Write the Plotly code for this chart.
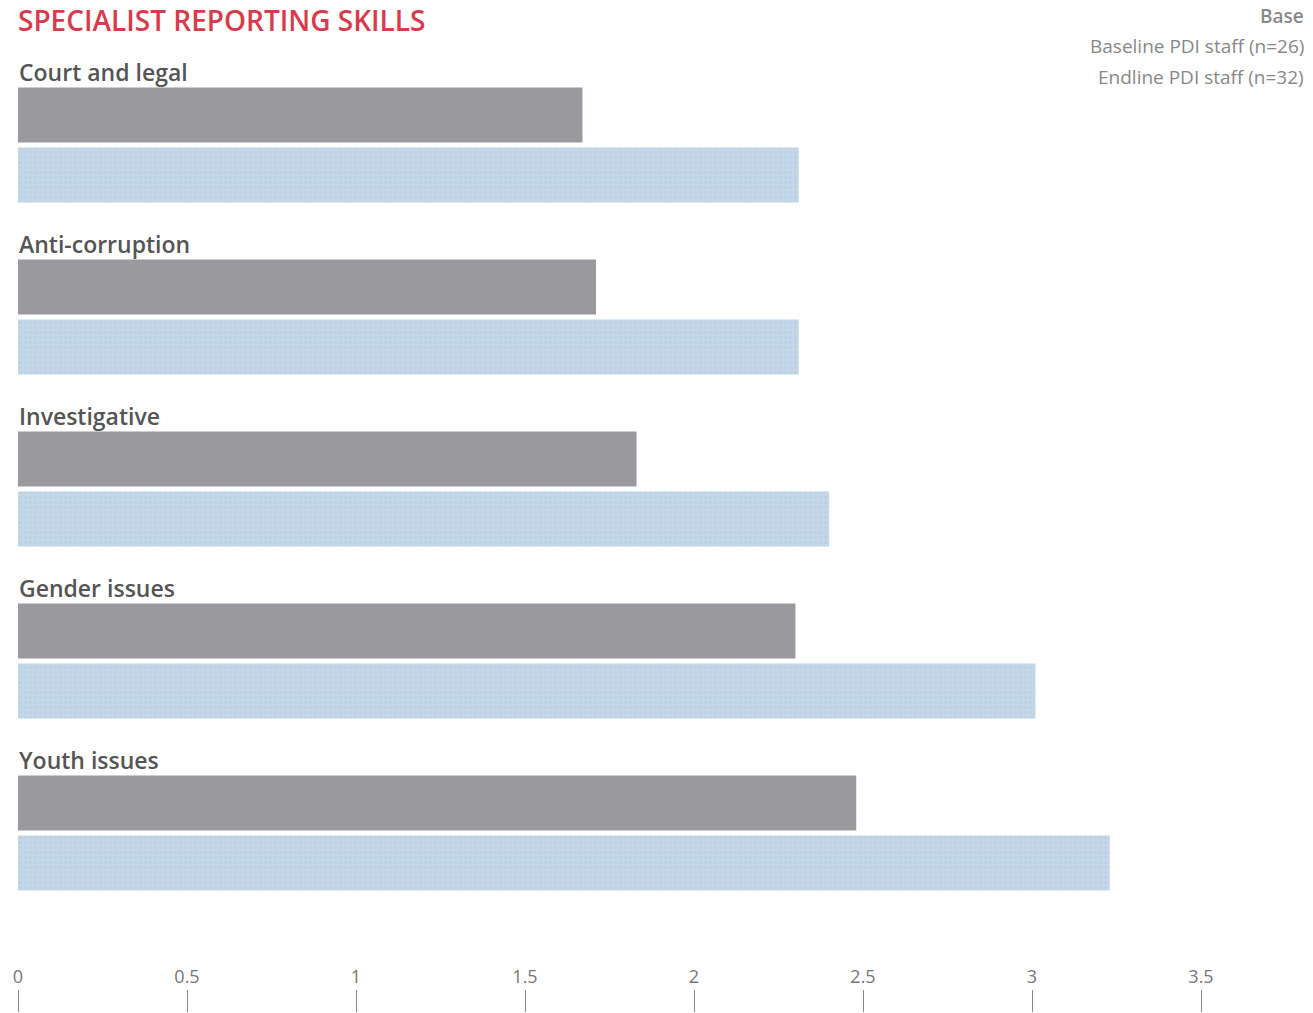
import plotly.graph_objects as go

categories = ["Court and legal", "Anti-corruption", "Investigative", "Gender issues", "Youth issues"]
baseline = [1.67, 1.71, 1.83, 2.30, 2.48]
endline = [2.31, 2.31, 2.40, 3.01, 3.23]
tick_vals = [0, 0.5, 1, 1.5, 2, 2.5, 3, 3.5]
tick_text = ["0", "0.5", "1", "1.5", "2", "2.5", "3", "3.5"]
legend_lines = ["Base", "Baseline PDI staff (n=26)", "Endline PDI staff (n=32)"]
title_text = "SPECIALIST REPORTING SKILLS"

W, H = 1313, 1013
ML, MR, MT, MB = 18, 0, 0, 1
PX_PER_UNIT = 338.0
plot_w = W - ML - MR
plot_h = H - MT - MB


def px_x(px):
    return (px - ML) / plot_w


def px_y(py):
    return 1 - (py - MT) / plot_h


# layout in pixel units along y
first_top = 87.5
pitch = 172.0
bar_h = 55.0
gap = 5.0

base_y = [first_top + i * pitch + bar_h / 2 for i in range(len(categories))]
end_y = [first_top + i * pitch + bar_h + gap + bar_h / 2 for i in range(len(categories))]
label_y = [first_top + i * pitch - 16 for i in range(len(categories))]

fig = go.Figure()
fig.add_trace(go.Bar(
    x=baseline, y=base_y, orientation="h", width=bar_h,
    marker=dict(color="#9a9a9e", line=dict(width=0)),
    name=legend_lines[1], hoverinfo="x",
))
fig.add_trace(go.Bar(
    x=endline, y=end_y, orientation="h", width=bar_h,
    marker=dict(color="#c2d5e6", line=dict(width=0),
                pattern=dict(shape=".", fgcolor="#afc8de", bgcolor="#c4d7e8",
                             size=5, solidity=0.25, fillmode="overlay")),
    name=legend_lines[2], hoverinfo="x",
))

annotations = []
for cat, ly in zip(categories, label_y):
    annotations.append(dict(
        x=0, y=ly, xref="x", yref="y", xanchor="left", yanchor="middle",
        text=cat, showarrow=False,
        font=dict(family="Open Sans", size=23, color="#555555", weight=600),
        xshift=-1,
    ))

annotations.append(dict(
    x=px_x(17), y=px_y(0), xref="paper", yref="paper", xanchor="left", yanchor="top",
    text=title_text, showarrow=False, borderpad=0,
    font=dict(family="Open Sans", size=28, color="#d83b4b", weight=600),
))
leg_y = [16, 46, 77]
for i, (t, yy) in enumerate(zip(legend_lines, leg_y)):
    annotations.append(dict(
        x=px_x(1306), y=px_y(yy), xref="paper", yref="paper", xanchor="right", yanchor="middle",
        text=t, showarrow=False,
        font=dict(family="Open Sans", size=19, color="#888888", weight=600 if i == 0 else 400),
    ))

fig.update_layout(
    width=W, height=H,
    margin=dict(l=ML, r=MR, t=MT, b=MB, pad=0),
    paper_bgcolor="white", plot_bgcolor="white",
    showlegend=False, barmode="overlay",
    annotations=annotations,
    xaxis=dict(
        range=[0, plot_w / PX_PER_UNIT], side="top", anchor="free", position=0,
        tickvals=tick_vals, ticktext=tick_text, ticks="outside", ticklen=22,
        tickcolor="#8a8a8a", tickwidth=1.2, showline=False, showgrid=False, zeroline=False,
        tickfont=dict(family="Open Sans", size=18, color="#777777"),
        fixedrange=True,
    ),
    yaxis=dict(
        range=[plot_h, 0], showticklabels=False, showgrid=False, zeroline=False,
        showline=False, ticks="", fixedrange=True,
    ),
)

fig.write_html("out.html")
